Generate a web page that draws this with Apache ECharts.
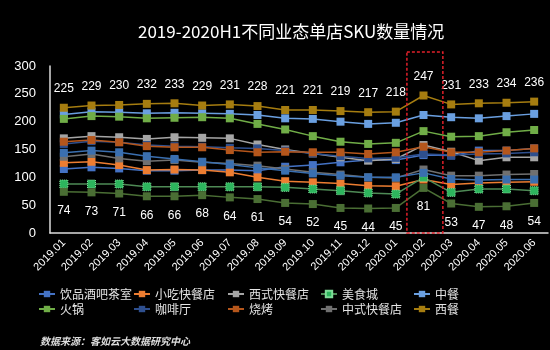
<!DOCTYPE html>
<html>
<head>
<meta charset="utf-8">
<script src="https://cdn.jsdelivr.net/npm/echarts@6/dist/echarts.min.js"></script>
<style>
html, body { margin: 0; padding: 0; background: #000; }
#main { width: 550px; height: 350px; }
</style>
</head>
<body>
<div id="main"></div>
<script>
var months = ['2019.01', '2019.02', '2019.03', '2019.04', '2019.05', '2019.06', '2019.07', '2019.08', '2019.09',
	'2019.10', '2019.11', '2019.12', '2020.01', '2020.02', '2020.03', '2020.04', '2020.05', '2020.06'];

// 各业态数据
var yinpin = [115, 118, 116, 112, 112, 113, 113, 112, 119, 122, 127, 131, 131, 140, 139, 148, 148, 152];
var xiaochi = [126, 128, 122, 113, 114, 113, 109, 100, 93, 91, 89, 85, 84, 96, 87, 90, 91, 92];
var xishiKuaican = [170, 174, 172, 169, 172, 171, 170, 159, 150, 143, 136, 130, 133, 158, 146, 130, 136, 136];
var meishicheng = [88, 88, 88, 83, 83, 83, 83, 83, 82, 79, 76, 72, 70, 100, 73, 79, 79, 76];
var zhongcan = [213, 218, 217, 215, 216, 215, 214, 212, 206, 205, 200, 196, 198, 212, 208, 206, 210, 214];
var huoguo = [205, 210, 209, 206, 207, 208, 206, 196, 186, 174, 164, 160, 162, 183, 173, 174, 181, 185];
var kafei = [160, 165, 163, 158, 156, 155, 153, 152, 148, 143, 138, 134, 135, 142, 140, 142, 143, 145];
var shaokao = [164, 167, 163, 156, 154, 154, 149, 145, 146, 145, 145, 142, 145, 155, 145, 145, 148, 152];
var zhongshiKuaican = [137, 142, 134, 129, 131, 127, 125, 121, 115, 109, 105, 100, 99, 114, 103, 103, 105, 106];
var xican = [225, 229, 230, 232, 233, 229, 231, 228, 221, 221, 219, 217, 218, 247, 231, 233, 234, 236];
var other1 = [144, 148, 145, 138, 133, 128, 123, 117, 112, 107, 103, 100, 100, 108, 97, 95, 96, 96];
var other2 = [74, 73, 71, 66, 66, 68, 64, 61, 54, 52, 45, 44, 45, 81, 53, 47, 48, 54];

var legendNames = ['饮品酒吧茶室', '小吃快餐店', '西式快餐店', '美食城', '中餐', '火锅', '咖啡厅', '烧烤', '中式快餐店', '西餐'];

function makeLine(name, data, color, extra) {
	var s = {
		name: name,
		type: 'line',
		data: data,
		symbol: 'rect',
		symbolSize: 8,
		showAllSymbol: true,
		lineStyle: { color: color, width: 1.5 },
		itemStyle: { color: color }
	};
	if (extra) {
		for (var k in extra) s[k] = extra[k];
	}
	return s;
}

// 图例：两行五列，每项单独放置
var legendCols = [33, 128, 222, 315, 408];
var legendRows = [283, 298];
var legends = [];
for (var i = 0; i < legendNames.length; i++) {
	legends.push({
		data: [legendNames[i]],
		left: legendCols[i % 5],
		top: legendRows[Math.floor(i / 5)],
		itemWidth: 16,
		itemHeight: 8,
		textStyle: { color: '#e6e6e6', fontSize: 12, fontFamily: 'Noto Sans CJK SC' }
	});
}

var myChart = echarts.init(document.getElementById('main'));
var option = {
	backgroundColor: '#000',
	animation: false,
	title: [{
		text: '2019-2020H1不同业态单店SKU数量情况',
		left: 133,
		top: 18,
		textStyle: { color: '#fff', fontSize: 17, fontWeight: 'normal', fontFamily: 'Noto Sans CJK SC' }
	}, {
		text: '数据来源：客如云大数据研究中心',
		left: 35,
		top: 331,
		textStyle: { color: '#ddd', fontSize: 10, fontStyle: 'italic', fontWeight: 'bold', fontFamily: 'Noto Sans CJK SC' }
	}],
	legend: legends,
	grid: { left: 50, right: 2, top: 66, bottom: 117 },
	xAxis: {
		type: 'category',
		data: months,
		boundaryGap: true,
		axisLine: { lineStyle: { color: '#ddd', width: 1.5 } },
		axisTick: { show: false },
		axisLabel: { color: '#fff', fontSize: 11, rotate: 45, margin: 8, interval: 0 }
	},
	yAxis: {
		type: 'value',
		min: 0,
		max: 300,
		interval: 50,
		splitLine: { show: false },
		axisLine: { show: true, lineStyle: { color: '#ddd', width: 1.5 } },
		axisTick: { show: false },
		axisLabel: { color: '#fff', fontSize: 13, margin: 14 }
	},
	series: [
		makeLine('饮品酒吧茶室', yinpin, '#4472C4'),
		makeLine('小吃快餐店', xiaochi, '#ED7D31'),
		makeLine('西式快餐店', xishiKuaican, '#A5A5A5'),
		makeLine('美食城', meishicheng, '#2DB55D', {
			lineStyle: { color: '#4E8A55', width: 1.5 },
			itemStyle: { color: '#2DB55D', borderColor: '#7fdc98', borderType: 'dotted', borderWidth: 1 }
		}),
		makeLine('中餐', zhongcan, '#6A9FE0'),
		makeLine('火锅', huoguo, '#70AD47'),
		makeLine('咖啡厅', kafei, '#2E4F8E'),
		makeLine('烧烤', shaokao, '#B5561B'),
		makeLine('中式快餐店', zhongshiKuaican, '#707070'),
		makeLine('西餐', xican, '#A67D10', {
			label: { show: true, position: 'top', distance: 9, color: '#fff', fontSize: 12 }
		}),
		makeLine('其他', other1, '#3A6FB0'),
		makeLine('其他2', other2, '#4A6E34', {
			label: { show: true, position: 'bottom', distance: 9, color: '#fff', fontSize: 12 }
		})
	]
};
myChart.setOption(option);

// 2020.02 红色虚线框
var xa = myChart.convertToPixel({ xAxisIndex: 0 }, '2020.02');
var xb = myChart.convertToPixel({ xAxisIndex: 0 }, '2020.03');
var band = xb - xa;
var yTop = myChart.convertToPixel({ yAxisIndex: 0 }, 325);
var yBot = myChart.convertToPixel({ yAxisIndex: 0 }, 0);
myChart.setOption({
	graphic: [{
		type: 'rect',
		shape: { x: xa - band * 0.6, y: yTop, width: band * 1.3, height: yBot - yTop },
		style: { fill: 'none', stroke: '#E0202A', lineWidth: 1.5, lineDash: [3, 2] },
		z: 10
	}]
});
</script>
</body>
</html>
